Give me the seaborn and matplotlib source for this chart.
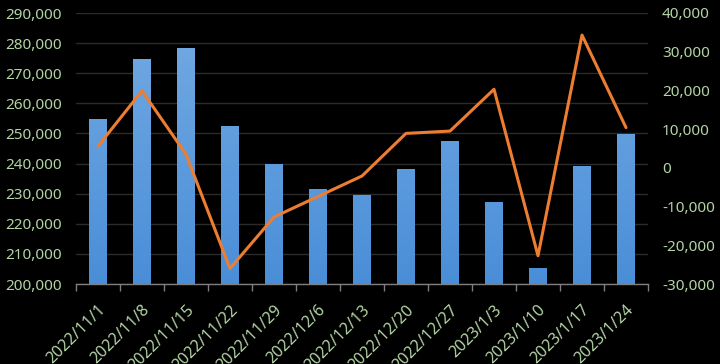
import matplotlib
matplotlib.use("Agg")
import matplotlib.pyplot as plt
import matplotlib.ticker as mticker
from matplotlib.colors import LinearSegmentedColormap
import numpy as np
import pandas as pd
import seaborn as sns

dates = ["2022/11/1", "2022/11/8", "2022/11/15", "2022/11/22", "2022/11/29",
         "2022/12/6", "2022/12/13", "2022/12/20", "2022/12/27", "2023/1/3",
         "2023/1/10", "2023/1/17", "2023/1/24"]
totals = [254800, 274800, 278400, 252500, 239700, 231500, 229400,
          238200, 247500, 227300, 205200, 239200, 249800]
changes = [5600, 19900, 3500, -26000, -12700, -7400, -2100,
           8900, 9500, 20300, -22700, 34300, 10400]
left_ticks = list(range(200000, 290001, 10000))
right_ticks = list(range(-30000, 40001, 10000))

sns.set_theme(style="dark")
plt.rcParams['font.family'] = ['Noto Sans', 'DejaVu Sans']

label_col = "#b3d4a4"
bg = "black"

df = pd.DataFrame({"date": dates, "total": totals, "change": changes,
                   "pos": np.arange(len(dates))})

fig = plt.figure(figsize=(7.2, 3.64), dpi=100, facecolor=bg)
ax = fig.add_axes([76/720, 1-284/364, (648-76)/720, (284-13)/364])
ax.set_facecolor(bg)

sns.barplot(data=df, x="date", y="total", ax=ax, color="#5b9bd5",
            width=0.39, saturation=1, zorder=3, linewidth=0, edgecolor="none")
ax.set_ylim(200000, 290000)
ax.set_xlim(-0.5, len(dates) - 0.5)

# vertical gradient fill (lighter at top, darker at bottom) clipped to each bar
cmap = LinearSegmentedColormap.from_list("barg", ["#4a8ed8", "#74abe3"])
grad = np.linspace(0, 1, 256).reshape(-1, 1)
for patch in list(ax.patches):
    x0, y0 = patch.get_x(), patch.get_y()
    w, h = patch.get_width(), patch.get_height()
    im = ax.imshow(grad, cmap=cmap, origin="lower", aspect="auto",
                   extent=[x0, x0 + w, 200000, 290000], zorder=3.5)
    im.set_clip_path(patch)
ax.set_ylim(200000, 290000)
ax.set_xlim(-0.5, len(dates) - 0.5)

ax.set_yticks(left_ticks)
ax.yaxis.set_major_formatter(mticker.FuncFormatter(lambda v, p: f"{int(v):,}"))
ax.grid(axis="y", color="#2b2b2b", linewidth=1, zorder=0)
ax.grid(axis="x", visible=False)
ax.set_xlabel("")
ax.set_ylabel("")
for s in ["left", "right", "top"]:
    ax.spines[s].set_visible(False)
ax.spines["bottom"].set_color("#7f7f7f")
ax.spines["bottom"].set_linewidth(1)
ax.spines["bottom"].set_zorder(5)
ax.tick_params(axis="y", length=0, labelsize=11, labelcolor=label_col, pad=10)
ax.tick_params(axis="x", which="major", length=0, labelsize=11.5,
               labelcolor=label_col, pad=13)
ax.set_xticks(np.arange(-0.5, len(dates), 1), minor=True)
ax.tick_params(axis="x", which="minor", length=5, color="#7f7f7f", width=1,
               bottom=True)
for lab in ax.get_xticklabels():
    lab.set_rotation(45)
    lab.set_ha("right")
    lab.set_rotation_mode("anchor")

ax2 = ax.twinx()
sns.lineplot(data=df, x="pos", y="change", ax=ax2, color="#ed7d31",
             linewidth=2.2, zorder=4)
ax2.set_ylim(-30000, 40000)
ax2.set_yticks(right_ticks)
ax2.yaxis.set_major_formatter(mticker.FuncFormatter(lambda v, p: f"{int(v):,}"))
ax2.set_xlim(-0.5, len(dates) - 0.5)
ax2.set_ylabel("")
ax2.set_xlabel("")
ax2.grid(False)
for s in ["left", "right", "top", "bottom"]:
    ax2.spines[s].set_visible(False)
ax2.tick_params(axis="y", length=0, labelsize=11, labelcolor=label_col, pad=10)

fig.savefig("out.png", dpi=100, facecolor=bg)
